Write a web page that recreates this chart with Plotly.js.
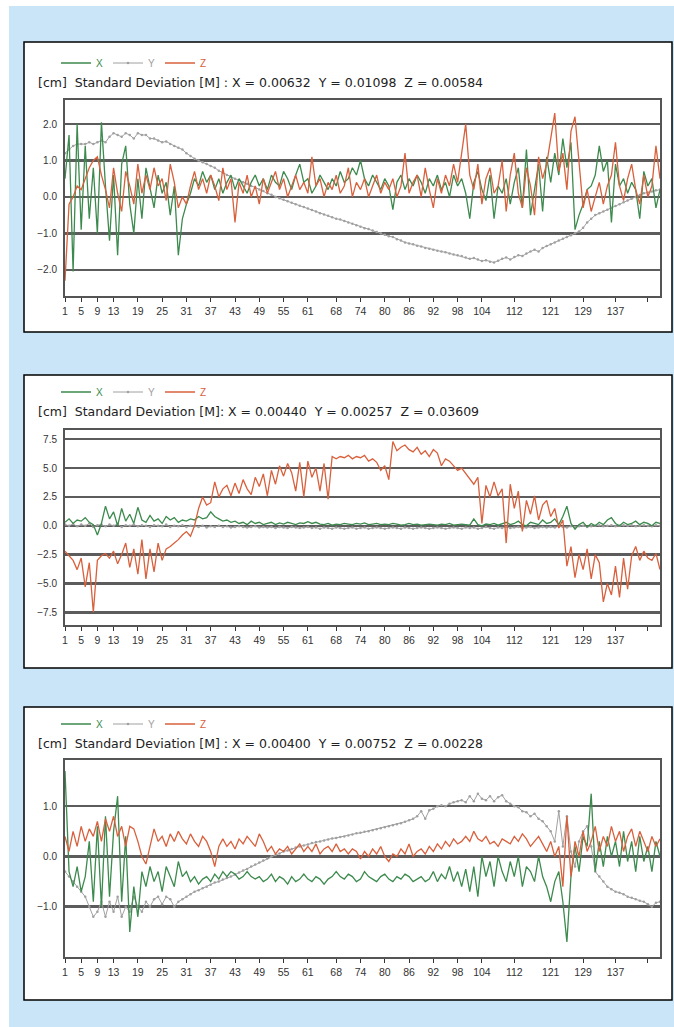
<!DOCTYPE html>
<html>
<head>
<meta charset="utf-8">
<script src="https://cdn.plot.ly/plotly-3.0.1.min.js"></script>
<style>
html,body{margin:0;padding:0;background:#ffffff;}
#chart{width:674px;height:1027px;}
</style>
</head>
<body>
<div id="chart"></div>
<script>
// ---------- DATA ----------
const seriesNames = ['X', 'Y', 'Z'];
const epochTicks = [1,5,9,13,19,25,31,37,43,49,55,61,68,74,80,86,92,98,104,112,121,129,137,145];
const epochLabels = ['1','5','9','13','19','25','31','37','43','49','55','61','68','74','80','86','92','98','104','112','121','129','137',''];

const titles = [
  '[cm]  Standard Deviation [M] : X = 0.00632  Y = 0.01098  Z = 0.00584',
  '[cm]  Standard Deviation [M]: X = 0.00440  Y = 0.00257  Z = 0.03609',
  '[cm]  Standard Deviation [M] : X = 0.00400  Y = 0.00752  Z = 0.00228'
];

const yTicks1 = [-2, -1, 0, 1, 2];
const yTicks2 = [-7.5, -5, -2.5, 0, 2.5, 5, 7.5];
const yTicks3 = [-1, 0, 1];

// Panel 1
const p1X = [
  0.5, 1.7, -2.05, 2.0, -0.9, 1.4, -0.6, 0.8, -1.0, 2.05,
  0.3, -1.2, 0.6, -1.6, 0.9, 1.4, -0.2, -1.0, 0.5, -0.6,
  0.8, 0.2, -0.3, 0.6, 0.1, 0.4, -0.5, 0.3, -1.6, -0.6,
  -0.2, 0.1, 0.5, 0.3, 0.7, 0.4, 0.6, 0.2, 0.5, 0.1,
  0.4, 0.6, 0.2, 0.5, 0.3, 0.1, 0.4, 0.6, 0.3, 0.5,
  0.2, 0.6, 0.4, 0.3, 0.7, 0.5, 0.2, 0.6, 0.9, 0.4,
  0.5, 0.1, 0.3, 0.6, 0.4, 0.2, 0.5, 0.3, 0.7, 0.4,
  0.5, 0.8, 0.6, 1.0, 0.5, 0.3, 0.6, 0.4, 0.2, 0.5,
  0.3, -0.35, 0.4, 0.6, 0.2, 0.5, 0.3, 0.6, 0.4, 0.1,
  0.5, 0.3, 0.6, 0.2, 0.4, 0.0, 0.6, 0.3, 0.5, 0.1,
  -0.6, 0.4, 0.7, 0.2, -0.1, 0.6, -0.6, 0.3, 0.1, 0.5,
  -0.2, 0.4, 0.8, -0.3, 1.3, -0.5, 0.2, 0.9, -0.4, 1.1,
  0.4, 1.2, 0.6, 1.6, 0.8, 1.5, -0.9, -0.5, -0.2, 0.2,
  0.3, 0.6, 1.4, 0.7, 1.0, -0.7, 0.9, 0.3, 0.5, 0.1,
  0.4, 0.2, -0.6, 0.7, 0.3, 0.5, -0.3, 0.2
];
const p1Y = [
  1.2, 1.3, 1.4, 1.45, 1.45, 1.45, 1.5, 1.45, 1.5, 1.55,
  1.5, 1.65, 1.75, 1.7, 1.65, 1.75, 1.7, 1.6, 1.75, 1.7,
  1.7, 1.6, 1.6, 1.55, 1.5, 1.52, 1.45, 1.4, 1.35, 1.3,
  1.2, 1.12, 1.05, 1.0, 0.95, 0.9, 0.85, 0.8, 0.72, 0.66,
  0.6, 0.55, 0.5, 0.46, 0.4, 0.36, 0.3, 0.26, 0.2, 0.16,
  0.1, 0.06, 0.0, -0.04, -0.08, -0.12, -0.16, -0.2, -0.24, -0.28,
  -0.32, -0.36, -0.4, -0.45, -0.48, -0.52, -0.56, -0.6, -0.62, -0.66,
  -0.7, -0.74, -0.78, -0.82, -0.86, -0.88, -0.92, -0.96, -1.0, -1.04,
  -1.08, -1.1, -1.16, -1.2, -1.25, -1.28, -1.3, -1.34, -1.36, -1.4,
  -1.42, -1.45, -1.48, -1.5, -1.52, -1.55, -1.58, -1.6, -1.62, -1.66,
  -1.7, -1.68, -1.72, -1.76, -1.74, -1.78, -1.8, -1.75, -1.7, -1.66,
  -1.72, -1.65, -1.6, -1.62, -1.55, -1.5, -1.45, -1.5, -1.4, -1.35,
  -1.3, -1.25, -1.2, -1.15, -1.1, -1.05, -1.0, -0.95, -0.85, -0.7,
  -0.6, -0.5, -0.45, -0.4, -0.35, -0.3, -0.25, -0.2, -0.15, -0.1,
  -0.05, 0.0, 0.05, 0.1, 0.12, 0.15, 0.18, 0.2
];
const p1Z = [
  -2.3, -0.2, 0.0, 0.3, 0.2, 0.5, 0.8, 1.0, 1.1, 0.6,
  0.2, -0.3, 0.8, 0.1, -0.4, 0.7, 0.3, -0.2, 0.9, 0.1,
  0.6, 0.2, 0.8, 0.3, 0.5, -0.1, 0.9, 0.4, -0.3, 0.0,
  -0.2, 0.3, 0.7, 0.2, 0.5, 0.1, 0.6, 0.3, -0.1, 0.8,
  0.2, 0.5, -0.7, 0.4, 0.1, 0.6, 0.0, 0.3, -0.2, 0.5,
  0.1, 0.4, 0.7, 0.2, 0.5, 0.0, 0.3, 0.6, 0.2, 0.4,
  0.1, 1.1, 0.3, 0.5, 0.0, 0.4, 0.2, 0.6, 0.1, 0.3,
  0.8, 0.0, 0.4, 0.2, 0.5, 0.0, 0.3, 0.6, 0.1, 0.4,
  0.2, 0.5, 0.0, 0.3, 1.2, 0.1, 0.4, 0.6, 0.0, 0.8,
  0.2, -0.3, 0.5, 0.1, 0.6, 0.3, 0.9, 0.4, 1.2, 2.0,
  0.6, 0.2, 0.9, -0.2, 0.5, 0.8, 0.1, 0.3, 1.0, -0.4,
  0.6, 1.2, 0.1, -0.3, 0.8, 0.3, -0.5, 1.1, 0.5, 0.9,
  1.6, 2.3, 0.7, 1.2, 0.2, 1.8, 2.2, 0.9, -0.3, 0.2,
  -0.4, 0.0, 0.4, -0.2, 0.3, 0.6, 1.5, 0.3, -0.1, 0.5,
  0.9, 0.2, -0.2, 0.6, 0.0, 0.3, 1.4, 0.5
];

// Panel 2
const p2X = [
  0.3, 0.6, 0.2, 0.5, 0.4, 0.7, 0.3, 0.1, -0.8, 0.2,
  1.7, 0.6, 1.2, 0.0, 1.5, 0.4, 1.0, 0.2, 1.6, 0.5,
  0.3, 0.9, 0.4, 0.6, 0.2, 0.8, 0.5, 0.7, 0.3, 0.5,
  0.4, 0.6, 0.5, 0.8, 0.6, 0.7, 1.2, 0.8, 0.6, 0.4,
  0.5, 0.3, 0.4, 0.2, 0.3, 0.1, 0.4, 0.2, 0.3, 0.1,
  0.2, 0.3, 0.1, 0.25, 0.15, 0.3, 0.2, 0.1, 0.25, 0.2,
  0.35, 0.2, 0.3, 0.15, 0.1, 0.2, 0.05, 0.15, 0.1, 0.2,
  0.15, 0.1, 0.2, 0.15, 0.25, 0.1, 0.15, 0.2, 0.1, 0.15,
  0.1, 0.2, 0.15, 0.05, 0.1, 0.2, 0.1, 0.15, 0.05, 0.1,
  0.15, 0.1, 0.05, 0.15, 0.1, 0.2, 0.05, 0.1, 0.15, 0.1,
  0.05, 0.6, 0.1, 0.0, 0.15, 0.1, 0.2, 0.05, 0.15, 0.3,
  0.1, 0.2, 0.4, 0.1, 0.0, 0.3, 0.2, 0.1, 0.5, 0.2,
  0.3, 0.6, 0.1, 0.8, 1.7, 0.2, -0.3, 0.1, 0.3, -0.1,
  0.2, 0.0, 0.3, 0.1, 0.5, 0.7, 0.2, 0.0, 0.3, 0.1,
  0.2, 0.4, 0.1, 0.3, 0.2, 0.0, 0.3, 0.2
];
const p2Y = [
  0.1, 0.0, 0.15, -0.05, 0.1, 0.0, 0.2, -0.1, 0.05, 0.1,
  -0.05, 0.1, 0.0, 0.15, -0.1, 0.05, 0.0, 0.1, -0.05, 0.05,
  0.0, -0.1, 0.05, 0.0, -0.05, 0.1, -0.1, 0.0, -0.05, 0.05,
  -0.1, 0.0, -0.05, -0.1, 0.0, -0.15, -0.05, -0.1, 0.0, -0.1,
  -0.05, -0.15, -0.1, -0.05, -0.1, -0.15, -0.1, -0.05, -0.15, -0.1,
  -0.15, -0.1, -0.2, -0.1, -0.15, -0.2, -0.1, -0.15, -0.2, -0.15,
  -0.1, -0.2, -0.15, -0.25, -0.15, -0.2, -0.25, -0.15, -0.2, -0.25,
  -0.2, -0.15, -0.25, -0.2, -0.15, -0.25, -0.2, -0.15, -0.2, -0.25,
  -0.2, -0.15, -0.2, -0.25, -0.15, -0.2, -0.25, -0.2, -0.15, -0.2,
  -0.25, -0.2, -0.15, -0.2, -0.25, -0.2, -0.15, -0.2, -0.25, -0.15,
  -0.2, -0.15, -0.25, -0.2, -0.1, -0.2, -0.25, -0.15, -0.2, -0.1,
  -0.2, -0.15, -0.1, -0.2, -0.15, -0.1, -0.2, -0.15, -0.1, -0.15,
  -0.1, -0.15, -0.05, -0.1, -0.15, -0.05, -0.1, -0.05, 0.0, -0.1,
  -0.05, 0.0, 0.05, -0.05, 0.0, 0.05, -0.05, 0.0, 0.05, 0.0,
  0.05, -0.05, 0.0, 0.05, 0.0, -0.05, 0.05, 0.0
];
const p2Z = [
  -2.2, -2.6, -3.0, -3.8, -2.8, -5.3, -3.2, -7.5, -3.0, -2.6,
  -2.4, -2.8, -2.2, -3.3, -2.5, -1.5, -3.6, -2.0, -4.2, -1.2,
  -4.6, -2.0, -4.0, -1.5, -3.0, -2.0, -1.8, -1.5, -1.2, -0.8,
  -0.5, -0.9, 0.0, 1.5, 2.5, 1.8, 2.0, 3.8, 2.5, 3.2,
  3.5, 2.6, 3.7, 2.8, 4.0, 3.2, 2.7, 4.2, 3.4, 4.5,
  2.6, 4.8, 3.6, 5.2, 4.3, 5.4, 4.6, 3.0, 5.5, 2.5,
  5.6, 4.2, 5.0, 3.0, 5.4, 2.3, 6.0, 5.8, 6.0, 5.9,
  6.1, 5.8, 6.0, 5.9, 6.1, 5.6, 5.8, 5.5, 4.8, 5.2,
  4.0, 7.3, 6.5, 6.8, 7.0, 6.6, 6.4, 6.8, 6.2, 6.5,
  6.0, 6.6, 6.3, 5.2, 5.8, 5.6, 5.2, 4.8, 5.0, 4.5,
  4.0, 3.6, 4.2, 0.2, 3.5, 2.5, 3.8, 2.6, 3.2, -1.5,
  3.6, 1.5, 3.0, -0.5, 2.2, 1.0, 2.6, 0.5, 1.8, 2.2,
  0.8, 1.5, -0.2, 0.5, -3.5, -1.8, -4.5, -2.5, -3.8, -2.0,
  -4.6, -2.5, -3.2, -6.6, -5.0, -6.0, -3.5, -6.2, -2.8, -5.5,
  -2.6, -1.8, -3.0, -2.2, -2.8, -3.0, -2.4, -3.8
];

// Panel 3
const p3X = [
  1.7, -0.3, -0.6, -0.2, -0.7, -0.4, 0.3, -0.9, 0.6, -1.0,
  0.8, -0.8, 0.5, 1.2, -0.9, 0.4, -1.5, -0.6, -1.2, -0.3,
  -0.6, -0.2, -0.5, -0.3, -0.7, -0.2, -0.4, -0.6, -0.1, -0.4,
  -0.3, -0.5, -0.4, -0.55, -0.45, -0.4, -0.5, -0.35, -0.45, -0.3,
  -0.4, -0.3, -0.35, -0.45, -0.4, -0.3, -0.4, -0.45, -0.4, -0.5,
  -0.45, -0.35, -0.5, -0.4, -0.45, -0.55, -0.4, -0.5, -0.45, -0.35,
  -0.45, -0.5, -0.4, -0.45, -0.55, -0.45, -0.4, -0.3, -0.4, -0.45,
  -0.35, -0.4, -0.5, -0.45, -0.3, -0.4, -0.45, -0.5, -0.4, -0.35,
  -0.45, -0.5, -0.4, -0.45, -0.35, -0.4, -0.5, -0.45, -0.4, -0.5,
  -0.45, -0.3, -0.5, -0.35, -0.45, -0.2, -0.5, -0.3, -0.6, -0.25,
  -0.7, -0.2, -0.8, 0.0, -0.4, -0.1, -0.6, 0.0, -0.3, -0.5,
  -0.1, -0.4, 0.0, -0.6, -0.2, -0.3, -0.5, 0.0, -0.4, -0.6,
  -0.9, -0.5, -0.3, -0.9, -1.7, -0.4, 0.2, -0.3, 0.4, 0.2,
  1.25, -0.3, 0.3, -0.2, 0.4, 0.0, 0.3, -0.2, 0.5, -0.1,
  0.3, -0.3, 0.4, -0.1, 0.2, -0.3, 0.3, 0.0
];
const p3Y = [
  -0.3, -0.4, -0.5, -0.6, -0.7, -0.8, -1.0, -1.2, -1.1, -0.9,
  -1.2, -0.9, -1.1, -0.8, -1.2, -1.0, -1.1, -0.8, -1.0, -1.1,
  -0.9, -1.0, -0.85, -0.8, -0.95, -0.8, -0.85, -1.0, -0.9, -0.85,
  -0.8, -0.75, -0.7, -0.67, -0.63, -0.6, -0.56, -0.52, -0.5, -0.46,
  -0.43, -0.4, -0.36, -0.32, -0.28, -0.25, -0.2, -0.16, -0.12, -0.08,
  -0.04, 0.0, 0.03, 0.06, 0.1, 0.12, 0.15, 0.18, 0.2, 0.22,
  0.24, 0.27, 0.29, 0.3, 0.32, 0.34, 0.36, 0.37, 0.39, 0.4,
  0.42, 0.44, 0.46, 0.47, 0.49, 0.5, 0.52, 0.54, 0.56, 0.58,
  0.6, 0.62, 0.64, 0.66, 0.69, 0.72, 0.75, 0.8, 0.9, 0.75,
  0.92, 0.95, 1.0, 1.02, 1.0, 1.05, 1.08, 1.1, 1.12, 1.08,
  1.2, 1.1, 1.25, 1.15, 1.12, 1.2, 1.1, 1.18, 1.22, 1.1,
  1.05, 1.0, 0.98, 0.9, 0.88, 0.8, 0.85, 0.75, 0.7, 0.6,
  0.5, 0.3, 0.9, 0.2, 0.8, 0.1, -0.2, 0.3, 0.5, 0.6,
  0.2, -0.3, -0.4, -0.5, -0.6, -0.65, -0.7, -0.72, -0.75, -0.8,
  -0.82, -0.85, -0.88, -0.9, -0.95, -1.0, -0.92, -0.9
];
const p3Z = [
  0.4, 0.1, 0.5, 0.2, 0.6, 0.3, 0.55, 0.4, 0.7, 0.3,
  0.75, 0.5, 0.8, 0.4, 0.6, 0.2, 0.6, 0.55, 0.3, 0.0,
  -0.15, 0.2, 0.55, 0.3, 0.4, 0.2, 0.45, 0.3, 0.5, 0.35,
  0.25, 0.45, 0.3, 0.2, 0.4, 0.3, 0.1, -0.2, 0.2, 0.35,
  0.2, 0.3, 0.15, 0.35, 0.25, 0.4, 0.3, 0.2, 0.45, 0.3,
  0.1, 0.2, 0.05, 0.15, 0.1, 0.2, 0.05, 0.15, 0.25, 0.1,
  0.2, 0.1, 0.25, 0.05, 0.15, 0.2, 0.1, 0.25, 0.1, 0.15,
  0.05, 0.15, 0.1, -0.05, 0.1, 0.0, 0.15, 0.05, 0.2, 0.0,
  -0.1, 0.05, 0.0, 0.15, 0.05, 0.25, 0.0, 0.1, 0.15, 0.05,
  0.2, 0.1, 0.25, 0.15, 0.3, 0.2, 0.35, 0.25, 0.3, 0.4,
  0.3, 0.5, 0.35, 0.3, 0.4, 0.25, 0.3, 0.2, 0.35, 0.3,
  0.25, 0.4, 0.3, 0.45, 0.35, 0.2, 0.3, 0.4, 0.25, 0.1,
  0.3, 0.0, 0.2, -0.6, 0.8, -0.4, 0.3, 0.0, 0.5, 0.1,
  0.3, 0.6, 0.1, 0.4, 0.2, 0.6, 0.3, 0.5, 0.1, 0.4,
  0.55, 0.2, 0.5, 0.3, 0.1, 0.4, 0.2, 0.35
];

// ---------- STYLE / LAYOUT ----------
const W = 674, H = 1027;
const colX = '#3c8a4d', colY = '#a0a0a0', colZ = '#d9603c';
const font = 'Liberation Sans, Arial, sans-serif';
const titleFont = 'DejaVu Sans, Liberation Sans, sans-serif';
const py = p => 1 - p / H;
const px = p => p / W;

const panels = [
  {box: [42, 332], plot: [100, 296], legendY: 63, titleY: 82, range: [-2.72, 2.66], ticks: yTicks1, data: [p1X, p1Y, p1Z]},
  {box: [375, 668], plot: [430, 625], legendY: 392, titleY: 411, range: [-8.6, 8.3], ticks: yTicks2, data: [p2X, p2Y, p2Z]},
  {box: [707, 1000], plot: [760, 957], legendY: 724, titleY: 743, range: [-2.0, 1.92], ticks: yTicks3, data: [p3X, p3Y, p3Z]}
];

const traces = [];
const layout = {
  width: W, height: H,
  margin: {l: 0, r: 0, t: 0, b: 0},
  paper_bgcolor: '#ffffff',
  plot_bgcolor: '#ffffff',
  font: {family: font, size: 10, color: '#333'},
  showlegend: true,
  shapes: [
    {type: 'rect', xref: 'paper', yref: 'paper', x0: px(9), x1: 1, y0: 0, y1: py(6),
     fillcolor: '#c9e5f7', line: {width: 0}, layer: 'below'}
  ],
  annotations: []
};

panels.forEach((p, i) => {
  const n = i === 0 ? '' : String(i + 1);
  const xa = 'x' + n, ya = 'y' + n;
  const legName = 'legend' + n;
  layout.shapes.push({type: 'rect', xref: 'paper', yref: 'paper',
    x0: px(24), x1: px(672), y0: py(p.box[1]), y1: py(p.box[0]),
    fillcolor: '#ffffff', line: {color: '#000', width: 1.5}, layer: 'below'});
  layout['xaxis' + n] = {
    domain: [px(65), px(660)], anchor: ya,
    range: [1, 148], tickmode: 'array', tickvals: epochTicks, ticktext: epochLabels,
    ticks: 'outside', ticklen: 4, tickwidth: 1, tickcolor: '#333',
    showgrid: false, zeroline: false,
    showline: true, linecolor: '#555', linewidth: 2, mirror: true,
    tickfont: {family: font, size: 10.5, color: '#333'}, fixedrange: true
  };
  layout['yaxis' + n] = {
    domain: [py(p.plot[1]), py(p.plot[0])], anchor: xa,
    range: p.range, tickmode: 'array', tickvals: p.ticks, tickformat: '.1f',
    ticks: '', showgrid: true, gridcolor: '#5c5c5c', gridwidth: 2.5, zeroline: false,
    showline: true, linecolor: '#555', linewidth: 2, mirror: true,
    ticklabelstandoff: 4,
    tickfont: {family: font, size: 10, color: '#333'}, fixedrange: true
  };
  layout[legName] = {
    orientation: 'h', x: px(56), xanchor: 'left', y: py(p.legendY), yanchor: 'middle',
    bgcolor: 'rgba(0,0,0,0)', borderwidth: 0, itemwidth: 30,
    font: {family: font, size: 10, color: '#333'}, traceorder: 'normal',
    tracegroupgap: 0, itemclick: false, itemdoubleclick: false
  };
  layout.annotations.push({
    xref: 'paper', yref: 'paper', x: px(36), y: py(p.titleY), xanchor: 'left', yanchor: 'middle',
    text: titles[i], showarrow: false, font: {family: titleFont, size: 12.5, color: '#222'}
  });
  const cols = [colX, colY, colZ];
  const order = [1, 0, 2];
  order.forEach(k => {
    const t = {
      type: 'scatter', y: p.data[k], x0: 1, dx: 1, xaxis: xa, yaxis: ya,
      mode: k === 1 ? 'lines+markers' : 'lines',
      line: {color: cols[k], width: k === 1 ? 1 : 1.3},
      name: '<span style="color:' + cols[k] + '">' + seriesNames[k] + '</span>',
      legend: legName, legendrank: k + 1, hoverinfo: 'skip'
    };
    if (k === 1) t.marker = {size: 2.5, color: cols[k]};
    traces.push(t);
  });
});

Plotly.newPlot('chart', traces, layout, {staticPlot: true, displayModeBar: false});
</script>
</body>
</html>
